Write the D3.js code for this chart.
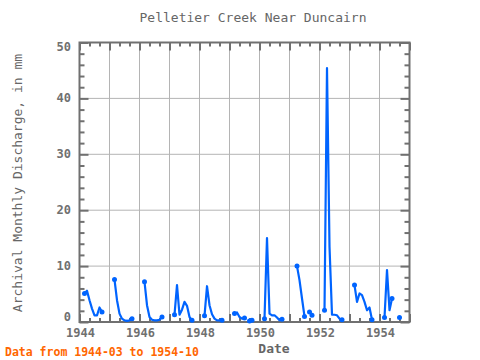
<!DOCTYPE html>
<html><head><meta charset="utf-8">
<script src="https://cdn.jsdelivr.net/npm/d3@7/dist/d3.min.js"></script>
<style>body{margin:0;background:#fff}svg{display:block}</style>
</head><body>
<svg id="chart" width="480" height="360"></svg>
<script>
// ---- data ----
const dates = [
 "1944-03","1944-04","1944-05","1944-06","1944-07","1944-08","1944-09","1944-10",
 "1945-03","1945-04","1945-05","1945-06","1945-07","1945-08","1945-09","1945-10",
 "1946-03","1946-04","1946-05","1946-06","1946-07","1946-08","1946-09","1946-10",
 "1947-03","1947-04","1947-05","1947-06","1947-07","1947-08","1947-09","1947-10",
 "1948-03","1948-04","1948-05","1948-06","1948-07","1948-08","1948-09","1948-10",
 "1949-03","1949-04","1949-05","1949-06","1949-07","1949-09","1949-10",
 "1950-03","1950-04","1950-05","1950-06","1950-07","1950-08","1950-09","1950-10",
 "1951-04","1951-05","1951-06","1951-07","1951-09","1951-10",
 "1952-03","1952-04","1952-05","1952-06","1952-07","1952-08","1952-09","1952-10",
 "1953-03","1953-04","1953-05","1953-06","1953-07","1953-08","1953-09","1953-10",
 "1954-03","1954-04","1954-05","1954-06","1954-09"
];
const discharge = [
 5.1,5.6,3.9,2.4,1.2,1.2,2.6,1.8,
 7.6,3.9,1.5,0.6,0.3,0.2,0.3,0.6,
 7.2,3.0,0.9,0.4,0.3,0.3,0.4,0.9,
 1.3,6.6,1.3,2.2,3.6,2.9,0.9,0.3,
 1.1,6.4,3.0,1.4,0.6,0.3,0.3,0.3,
 1.5,1.7,0.9,0.6,0.7,0.2,0.3,
 0.6,15.0,1.5,1.2,1.2,0.8,0.3,0.5,
 10.0,7.5,4.2,1.0,1.8,1.2,
 2.1,45.4,13.5,1.3,1.3,1.2,0.6,0.4,
 6.6,3.6,5.1,4.8,3.6,2.1,2.6,0.4,
 0.8,9.3,2.1,4.2,0.8
];
const xLabelYears = [1944,1946,1948,1950,1952,1954];
const yTickValues = [0,10,20,30,40,50];
const titleText = "Pelletier Creek Near Duncairn";
const yTitle = "Archival Monthly Discharge, in mm";
const xTitle = "Date";
const footerText = "Data from 1944-03 to 1954-10";

// ---- layout ----
const svg = d3.select("#chart");
const L = 79.5, R = 409.5, T = 42.5, B = 322;
const axisCol = "#707070", gridCol = "#b4b4b4", lineCol = "#0064ff", textCol = "#707070";
const mono = "'DejaVu Sans Mono', monospace";

const x = d3.scaleLinear().domain([1944, 1955]).range([L, R]);
const y = d3.scaleLinear().domain([0, 50]).range([B, T]);

const pts = dates.map((d, i) => {
  const [yy, mm] = d.split("-").map(Number);
  return {idx: yy * 12 + (mm - 1), t: yy + (mm - 1) / 12, v: discharge[i]};
});
// split into consecutive-month segments
const segs = [];
pts.forEach((p, i) => {
  if (i === 0 || p.idx - pts[i - 1].idx > 1) segs.push([]);
  segs[segs.length - 1].push(p);
});

// grid
const g = svg.append("g");
const yearsAll = d3.range(1945, 1955);
g.selectAll(".vg").data(yearsAll).join("line")
  .attr("x1", d => x(d)).attr("x2", d => x(d)).attr("y1", T).attr("y2", B)
  .attr("stroke", gridCol).attr("stroke-width", 1);
g.selectAll(".hg").data([10,20,30,40]).join("line")
  .attr("x1", L).attr("x2", R).attr("y1", d => y(d)).attr("y2", d => y(d))
  .attr("stroke", gridCol).attr("stroke-width", 1);

// ticks (inward) using d3 axes
function styleAxis(sel) {
  sel.select(".domain").remove();
  sel.selectAll("text").remove();
  sel.selectAll("line").attr("stroke", axisCol).attr("stroke-width", 2);
}
const majorYears = d3.range(1944, 1956);
const minorT = d3.range(0, 33).map(i => 1944 + i / 3).filter(t => Math.abs(t - Math.round(t)) > 1e-6);
svg.append("g").attr("transform", `translate(0,${B})`)
  .call(d3.axisBottom(x).tickValues(majorYears).tickSize(-8)).call(styleAxis);
svg.append("g").attr("transform", `translate(0,${B})`)
  .call(d3.axisBottom(x).tickValues(minorT).tickSize(-4)).call(styleAxis);
svg.append("g").attr("transform", `translate(0,${T})`)
  .call(d3.axisTop(x).tickValues(majorYears).tickSize(-8)).call(styleAxis);
svg.append("g").attr("transform", `translate(0,${T})`)
  .call(d3.axisTop(x).tickValues(minorT).tickSize(-4)).call(styleAxis);
const yMinor = d3.range(0, 51, 2).filter(v => v % 10 !== 0);
svg.append("g").attr("transform", `translate(${L},0)`)
  .call(d3.axisLeft(y).tickValues(yTickValues).tickSize(-9)).call(styleAxis);
svg.append("g").attr("transform", `translate(${L},0)`)
  .call(d3.axisLeft(y).tickValues(yMinor).tickSize(-5)).call(styleAxis);
svg.append("g").attr("transform", `translate(${R},0)`)
  .call(d3.axisRight(y).tickValues(yTickValues).tickSize(-9)).call(styleAxis);
svg.append("g").attr("transform", `translate(${R},0)`)
  .call(d3.axisRight(y).tickValues(yMinor).tickSize(-5)).call(styleAxis);

// frame
svg.append("rect").attr("x", L).attr("y", T).attr("width", R - L).attr("height", B - T)
  .attr("fill", "none").attr("stroke", axisCol).attr("stroke-width", 2);

// tick labels
svg.selectAll(".xl").data(xLabelYears).join("text")
  .attr("x", d => x(d) + 1).attr("y", 337)
  .attr("text-anchor", "middle").attr("font-family", mono).attr("font-weight", "bold")
  .attr("font-size", 12).attr("fill", textCol).text(d => d);
svg.selectAll(".yl").data(yTickValues).join("text")
  .attr("x", 71).attr("y", d => Math.min(Math.max(y(d), 47), 317) + 4)
  .attr("text-anchor", "end").attr("font-family", mono).attr("font-weight", "bold")
  .attr("font-size", 12).attr("fill", textCol).text(d => d);

// data line
const line = d3.line().x(d => x(d.t)).y(d => y(d.v));
svg.append("g").selectAll("path").data(segs).join("path")
  .attr("d", line).attr("fill", "none").attr("stroke", lineCol)
  .attr("stroke-width", 2.2).attr("stroke-linejoin", "round");
const ends = [];
segs.forEach(s => { ends.push(s[0]); if (s.length > 1) ends.push(s[s.length - 1]); });
svg.append("g").selectAll("circle").data(ends).join("circle")
  .attr("cx", d => x(d.t)).attr("cy", d => y(d.v)).attr("r", 2.5).attr("fill", lineCol);

// titles
svg.append("text").attr("x", 253).attr("y", 22).attr("text-anchor", "middle")
  .attr("font-family", mono).attr("font-size", 13).attr("fill", "#666").text(titleText);
svg.append("text").attr("transform", "translate(22,183) rotate(-90)").attr("text-anchor", "middle")
  .attr("font-family", mono).attr("font-size", 13).attr("fill", "#666").text(yTitle);
svg.append("text").attr("x", 274).attr("y", 353).attr("text-anchor", "middle")
  .attr("font-family", mono).attr("font-weight", "bold").attr("font-size", 13).attr("fill", "#666").text(xTitle);
svg.append("text").attr("x", 5).attr("y", 356).attr("text-anchor", "start")
  .attr("font-family", mono).attr("font-weight", "bold").attr("font-size", 11.5).attr("fill", "#ff6600").text(footerText);
</script>
</body></html>
